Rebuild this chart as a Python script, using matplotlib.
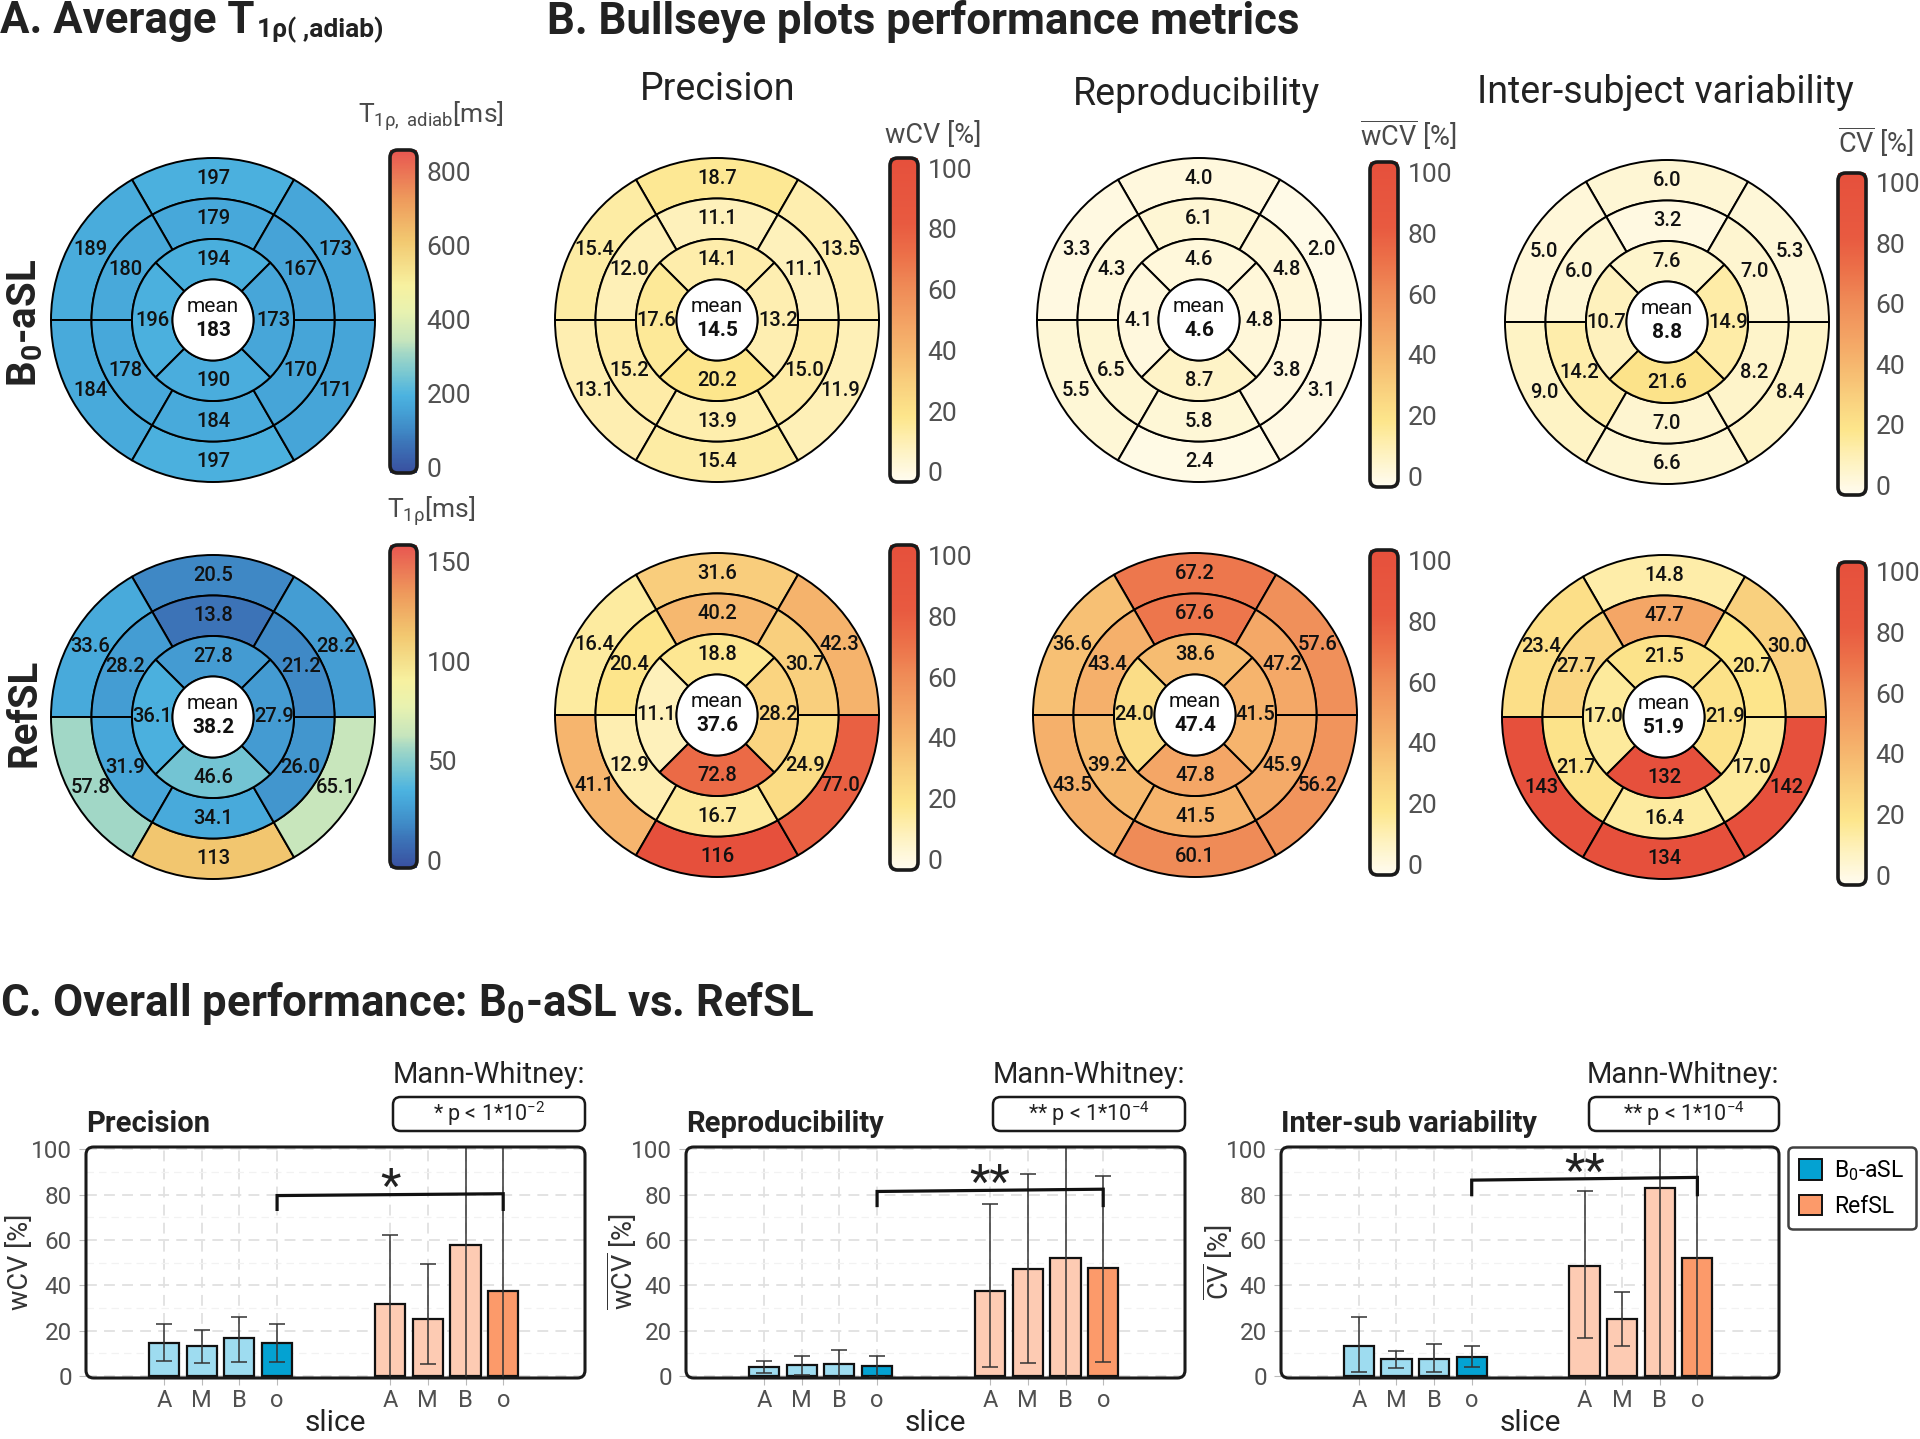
import numpy as np
import matplotlib
matplotlib.use('Agg')
import matplotlib.pyplot as plt
from matplotlib.patches import Wedge, Circle, FancyBboxPatch, Patch
from matplotlib.colors import LinearSegmentedColormap, Normalize
from matplotlib.cm import ScalarMappable
from matplotlib.text import Annotation

plt.rcParams['font.family'] = ['Roboto', 'DejaVu Sans']
plt.rcParams['mathtext.fontset'] = 'custom'
plt.rcParams['mathtext.rm'] = 'Roboto'
plt.rcParams['mathtext.it'] = 'Roboto:italic'
plt.rcParams['mathtext.bf'] = 'Roboto:bold'

# ---------------- data: bullseyes (order: top, upper-left, lower-left, bottom, lower-right, upper-right) ------------
# apical order: top, left, bottom, right
t1_b0_basal = [197, 189, 184, 197, 171, 173]
t1_b0_mid = [179, 180, 178, 184, 170, 167]
t1_b0_apical = [194, 196, 190, 173]
t1_b0_mean = 183

t1_ref_basal = [20.5, 33.6, 57.8, 113, 65.1, 28.2]
t1_ref_mid = [13.8, 28.2, 31.9, 34.1, 26.0, 21.2]
t1_ref_apical = [27.8, 36.1, 46.6, 27.9]
t1_ref_mean = 38.2

prec_b0_basal = [18.7, 15.4, 13.1, 15.4, 11.9, 13.5]
prec_b0_mid = [11.1, 12.0, 15.2, 13.9, 15.0, 11.1]
prec_b0_apical = [14.1, 17.6, 20.2, 13.2]
prec_b0_mean = 14.5

repr_b0_basal = [4.0, 3.3, 5.5, 2.4, 3.1, 2.0]
repr_b0_mid = [6.1, 4.3, 6.5, 5.8, 3.8, 4.8]
repr_b0_apical = [4.6, 4.1, 8.7, 4.8]
repr_b0_mean = 4.6

isv_b0_basal = [6.0, 5.0, 9.0, 6.6, 8.4, 5.3]
isv_b0_mid = [3.2, 6.0, 14.2, 7.0, 8.2, 7.0]
isv_b0_apical = [7.6, 10.7, 21.6, 14.9]
isv_b0_mean = 8.8

prec_ref_basal = [31.6, 16.4, 41.1, 116, 77.0, 42.3]
prec_ref_mid = [40.2, 20.4, 12.9, 16.7, 24.9, 30.7]
prec_ref_apical = [18.8, 11.1, 72.8, 28.2]
prec_ref_mean = 37.6

repr_ref_basal = [67.2, 36.6, 43.5, 60.1, 56.2, 57.6]
repr_ref_mid = [67.6, 43.4, 39.2, 41.5, 45.9, 47.2]
repr_ref_apical = [38.6, 24.0, 47.8, 41.5]
repr_ref_mean = 47.4

isv_ref_basal = [14.8, 23.4, 143, 134, 142, 30.0]
isv_ref_mid = [47.7, 27.7, 21.7, 16.4, 17.0, 20.7]
isv_ref_apical = [21.5, 17.0, 132, 21.9]
isv_ref_mean = 51.9

t1_b0_ticks = [0, 200, 400, 600, 800]
t1_ref_ticks = [0, 50, 100, 150]
metric_ticks = [0, 20, 40, 60, 80, 100]

# ---------------- data: bar charts ----------------
slices = ['A', 'M', 'B', 'o']

prec_b0_vals = [14.8, 13.1, 17.0, 14.5]
prec_b0_lo = [6.8, 5.8, 6.3, 6.1]
prec_b0_hi = [22.8, 20.4, 26.2, 22.8]
prec_ref_vals = [32.0, 25.0, 57.9, 37.4]
prec_ref_lo = [-3.0, 5.4, -40.0, -30.0]
prec_ref_hi = [62.1, 49.5, 160.0, 110.0]

repr_b0_vals = [4.0, 5.0, 5.3, 4.3]
repr_b0_lo = [1.2, 0.7, -1.0, -0.3]
repr_b0_hi = [6.9, 8.9, 11.5, 8.9]
repr_ref_vals = [37.7, 47.3, 52.3, 47.7]
repr_ref_lo = [3.9, 5.6, -20.0, 6.2]
repr_ref_hi = [75.9, 89.1, 125.0, 88.1]

isv_b0_vals = [13.2, 7.4, 7.7, 8.4]
isv_b0_lo = [1.9, 3.8, 1.9, 4.1]
isv_b0_hi = [25.9, 11.0, 14.0, 13.5]
isv_ref_vals = [48.7, 25.1, 83.0, 52.0]
isv_ref_lo = [16.9, 13.5, -20.0, -20.0]
isv_ref_hi = [81.4, 37.1, 190.0, 140.0]

# bracket heights: leg bottom, left top, right top, star height
prec_bracket = [73.5, 79.6, 80.4, 87.0]
repr_bracket = [75.2, 81.4, 82.4, 88.8]
isv_bracket = [80.0, 86.4, 87.6, 93.5]

# ---------------- colormaps ----------------
t1_cmap = LinearSegmentedColormap.from_list('t1', [
    (0.0, '#3950a0'), (0.09, '#3c74b8'), (0.13, '#3f88c5'), (0.2, '#46a5d8'),
    (0.24, '#4cb3e0'), (0.30, '#74c5d3'), (0.37, '#a2d7c6'), (0.41, '#c6e5bd'),
    (0.5, '#e8f2b0'), (0.58, '#f7f1a0'), (0.72, '#f2c870'), (0.85, '#ee9a5c'),
    (1.0, '#e85650')])
met_cmap = LinearSegmentedColormap.from_list('met', [
    (0.0, '#fffcf0'), (0.1, '#fef2c0'), (0.2, '#fde68c'), (0.3, '#f9d07e'),
    (0.4, '#f6b86f'), (0.5, '#f3a163'), (0.6, '#ef8b57'), (0.7, '#ec7049'),
    (0.8, '#e85a40'), (1.0, '#e6503c')])

W, H = 1920, 1439
fig = plt.figure(figsize=(W / 100, H / 100), dpi=100)
TXT = '#222222'
GRY = '#4a4a4a'


def fx(px):
    return px / W


def fy(py):
    return 1 - py / H


def rect(x0, y0, x1, y1):
    return [x0 / W, 1 - y1 / H, (x1 - x0) / W, (y1 - y0) / H]


def rbox(x0, y0, x1, y1, lw=2.4, r=0.003, ec='#1a1a1a', fc='none', z=5):
    p = FancyBboxPatch((x0 / W, 1 - y1 / H), (x1 - x0) / W, (y1 - y0) / H,
                       boxstyle=f'round,pad=0,rounding_size={r}', mutation_aspect=W / H,
                       transform=fig.transFigure, fc=fc, ec=ec, lw=lw, zorder=z)
    fig.add_artist(p)


def fmt(v):
    return f"{v:.0f}" if v >= 100 else f"{v:.1f}"


ANG6 = [90, 150, 210, 270, 330, 30]
ANG4 = [90, 180, 270, 0]


def bullseye(cx, cy, basal, mid, apical, mean, cmap, norm):
    R = 162
    m = 1.03
    ax = fig.add_axes(rect(cx - R * m, cy - R * m, cx + R * m, cy + R * m))
    ax.set_xlim(-m, m)
    ax.set_ylim(-m, m)
    ax.axis('off')
    for vals, r, angs, half in [(basal, 1.0, ANG6, 30), (mid, 0.75, ANG6, 30), (apical, 0.5, ANG4, 45)]:
        for v, a in zip(vals, angs):
            ax.add_patch(Wedge((0, 0), r, a - half, a + half, width=0.25,
                               fc=cmap(norm(v)), ec='black', lw=1.4))
            rr = r - 0.125
            ax.text(rr * np.cos(np.radians(a)), rr * np.sin(np.radians(a)), fmt(v),
                    ha='center', va='center', fontsize=14.5, fontweight='medium', color='#111')
    ax.add_patch(Circle((0, 0), 0.25, fc='white', ec='black', lw=1.4))
    ax.text(0, 0.085, 'mean', ha='center', va='center', fontsize=15, color='#111')
    ax.text(0, -0.065, fmt(mean), ha='center', va='center', fontsize=15, fontweight='bold', color='#111')


def cbar(x0, y0, x1, y1, cmap, lo, hi, ticks):
    cax = fig.add_axes(rect(x0, y0, x1, y1))
    sm = ScalarMappable(norm=Normalize(lo, hi), cmap=cmap)
    cb = fig.colorbar(sm, cax=cax)
    cb.outline.set_visible(False)
    cb.set_ticks(ticks)
    cax.tick_params(length=0, labelsize=19, colors='#505050', pad=7)
    rbox(x0, y0, x1, y1, lw=2.6, r=0.004)


# ---------------- section titles ----------------
tA = fig.text(fx(0), fy(33), "A. Average T", fontsize=31.5,
              fontweight='bold', color=TXT, ha='left', va='baseline')
sub = Annotation("1ρ( ,adiab)", xy=(1.0, 0.0), xycoords=tA, xytext=(2, -1),
                 textcoords='offset points', fontsize=19, fontweight='bold', color=TXT,
                 ha='left', va='bottom')
fig.add_artist(sub)

fig.text(fx(547), fy(34), "B. Bullseye plots performance metrics", fontsize=31.5,
         fontweight='bold', color=TXT, ha='left', va='baseline')
fig.text(fx(0), fy(1016), r"C. Overall performance: B$_{\mathbf{0}}$-aSL vs. RefSL", fontsize=31.5,
         fontweight='bold', color=TXT, ha='left', va='baseline')

fig.text(fx(25), fy(323), r"B$_{\mathbf{0}}$-aSL", rotation=90, ha='center', va='center',
         fontsize=29, fontweight='bold', color=TXT)
fig.text(fx(25), fy(713), "RefSL", rotation=90, ha='center', va='center',
         fontsize=29, fontweight='bold', color=TXT)

fig.text(fx(718), fy(100), "Precision", fontsize=27, color=TXT, ha='center', va='baseline')
fig.text(fx(1197), fy(105), "Reproducibility", fontsize=27, color=TXT, ha='center', va='baseline')
fig.text(fx(1665), fy(103), "Inter-subject variability", fontsize=27, color=TXT, ha='center', va='baseline')

# ---------------- bullseyes ----------------
n_t1b = Normalize(0, 850)
n_t1r = Normalize(0, 156)
n_met = Normalize(0, 100)

bullseye(213, 320, t1_b0_basal, t1_b0_mid, t1_b0_apical, t1_b0_mean, t1_cmap, n_t1b)
bullseye(213, 717, t1_ref_basal, t1_ref_mid, t1_ref_apical, t1_ref_mean, t1_cmap, n_t1r)
bullseye(717, 320, prec_b0_basal, prec_b0_mid, prec_b0_apical, prec_b0_mean, met_cmap, n_met)
bullseye(1199, 320, repr_b0_basal, repr_b0_mid, repr_b0_apical, repr_b0_mean, met_cmap, n_met)
bullseye(1667, 322, isv_b0_basal, isv_b0_mid, isv_b0_apical, isv_b0_mean, met_cmap, n_met)
bullseye(717, 715, prec_ref_basal, prec_ref_mid, prec_ref_apical, prec_ref_mean, met_cmap, n_met)
bullseye(1195, 715, repr_ref_basal, repr_ref_mid, repr_ref_apical, repr_ref_mean, met_cmap, n_met)
bullseye(1664, 717, isv_ref_basal, isv_ref_mid, isv_ref_apical, isv_ref_mean, met_cmap, n_met)

# ---------------- colorbars ----------------
cbar(390, 150, 417, 473, t1_cmap, -16, 859, t1_b0_ticks)
cbar(390, 545, 417, 868, t1_cmap, -4, 158.5, t1_ref_ticks)
cbar(890, 158, 918, 482, met_cmap, -3.3, 103.3, metric_ticks)
cbar(1370, 162, 1398, 487, met_cmap, -3.3, 103.3, metric_ticks)
cbar(1838, 173, 1866, 495, met_cmap, -3.3, 103.3, metric_ticks)
cbar(890, 545, 918, 870, met_cmap, -3.3, 103.3, metric_ticks)
cbar(1370, 550, 1398, 875, met_cmap, -3.3, 103.3, metric_ticks)
cbar(1838, 562, 1866, 885, met_cmap, -3.3, 103.3, metric_ticks)

fig.text(fx(431), fy(123), r"T$_{\mathregular{1ρ,\ adiab}}$[ms]", fontsize=19, color=GRY,
         ha='center', va='baseline')
fig.text(fx(431), fy(518), r"T$_{\mathregular{1ρ}}$[ms]", fontsize=19, color=GRY,
         ha='center', va='baseline')
fig.text(fx(933), fy(143), "wCV [%]", fontsize=19.5, color=GRY, ha='center', va='baseline')
fig.text(fx(1408), fy(146), r"$\overline{\mathregular{wCV}}$ [%]", fontsize=19.5, color=GRY,
         ha='center', va='baseline')
fig.text(fx(1876), fy(153), r"$\overline{\mathregular{CV}}$ [%]", fontsize=19.5, color=GRY,
         ha='center', va='baseline')

# ---------------- bar charts ----------------
B0_LIGHT, B0_DARK = '#9edcf0', '#04a2d2'
RF_LIGHT, RF_DARK = '#fdcbb3', '#fc9a6a'


def barpanel(x0, x1, title, ylabel, ylab_x, b0v, b0lo, b0hi, rv, rlo, rhi, bracket, star, pval, pbox_x0):
    y0, y1 = 1147, 1378
    ax = fig.add_axes(rect(x0, y0, x1, y1))
    pb = np.arange(4)
    pr = pb + 6
    b0v, b0lo, b0hi = map(np.asarray, (b0v, b0lo, b0hi))
    rv, rlo, rhi = map(np.asarray, (rv, rlo, rhi))
    ax.bar(pb, b0v, 0.8, color=[B0_LIGHT] * 3 + [B0_DARK], edgecolor='#111', lw=1.6, zorder=3)
    ax.bar(pr, rv, 0.8, color=[RF_LIGHT] * 3 + [RF_DARK], edgecolor='#111', lw=1.6, zorder=3)
    ax.errorbar(pb, b0v, yerr=[b0v - b0lo, b0hi - b0v], fmt='none', ecolor='#333',
                elinewidth=1.1, capsize=6, capthick=1.1, zorder=4)
    ax.errorbar(pr, rv, yerr=[rv - rlo, rhi - rv], fmt='none', ecolor='#333',
                elinewidth=1.1, capsize=6, capthick=1.1, zorder=4)
    ax.set_xlim(-2.07, 11.17)
    ax.set_ylim(-0.8, 101)
    ax.set_xticks(np.r_[pb, pr])
    ax.set_xticklabels(slices * 2)
    ax.set_yticks([0, 20, 40, 60, 80, 100])
    ax.set_yticks([10, 30, 50, 70, 90], minor=True)
    ax.grid(True, which='major', ls=(0, (6, 4)), color='#e0e0e0', lw=1.3, zorder=0)
    ax.grid(True, which='minor', axis='y', ls=(0, (6, 4)), color='#f2f2f2', lw=0.9, zorder=0)
    ax.set_axisbelow(True)
    for s in ax.spines.values():
        s.set_visible(False)
    ax.tick_params(axis='both', which='major', length=5, color='#bbbbbb', labelcolor='#505050', pad=5)
    ax.tick_params(axis='y', which='minor', length=0)
    ax.tick_params(axis='y', labelsize=17.5)
    ax.tick_params(axis='x', labelsize=17, pad=3)
    rbox(x0, y0, x1, y1, lw=2.2, r=0.004)
    # bracket
    leg, lt, rt, sy = bracket
    ax.plot([3, 3, 9, 9], [leg, lt, rt, leg], color='#111', lw=2.3, zorder=6,
            solid_joinstyle='miter', clip_on=False)
    ax.text(6, sy - 4, star, ha='center', va='center', fontsize=34, color=TXT, zorder=6)
    # texts
    fig.text(fx(x0), fy(1124), title, fontsize=21, fontweight='bold', color=TXT,
             ha='left', va='center')
    fig.text(fx(ylab_x), fy(1262), ylabel, rotation=90, fontsize=19.5, color='#333',
             ha='center', va='center')
    fig.text(fx((x0 + x1) / 2), fy(1423), "slice", fontsize=21.5, color=TXT, ha='center', va='center')
    fig.text(fx(x1), fy(1075), "Mann-Whitney:", fontsize=21, color=TXT, ha='right', va='center')
    rbox(pbox_x0, 1097, x1, 1131, lw=1.8, r=0.004, fc='white')
    fig.text(fx((pbox_x0 + x1) / 2), fy(1114), pval, fontsize=15.5, color=TXT,
             ha='center', va='center', zorder=7)
    return ax


barpanel(86, 585, "Precision", "wCV [%]", 21,
         prec_b0_vals, prec_b0_lo, prec_b0_hi, prec_ref_vals, prec_ref_lo, prec_ref_hi,
         prec_bracket, "*", r"* p < 1*10$^{\mathregular{-2}}$", 393)
barpanel(686, 1185, "Reproducibility", r"$\overline{\mathregular{wCV}}$ [%]", 622,
         repr_b0_vals, repr_b0_lo, repr_b0_hi, repr_ref_vals, repr_ref_lo, repr_ref_hi,
         repr_bracket, "**", r"** p < 1*10$^{\mathregular{-4}}$", 993)
barpanel(1281, 1779, "Inter-sub variability", r"$\overline{\mathregular{CV}}$ [%]", 1218,
         isv_b0_vals, isv_b0_lo, isv_b0_hi, isv_ref_vals, isv_ref_lo, isv_ref_hi,
         isv_bracket, "**", r"** p < 1*10$^{\mathregular{-4}}$", 1589)

handles = [Patch(fc=B0_DARK, ec='#111', lw=1.4, label=r"B$_{\mathregular{0}}$-aSL"),
           Patch(fc=RF_DARK, ec='#111', lw=1.4, label="RefSL")]
leg = fig.legend(handles=handles, loc='upper left', bbox_to_anchor=(fx(1788), fy(1147)),
                 frameon=True, fancybox=True, fontsize=16.5, handlelength=1.0, handleheight=1.0,
                 borderpad=0.5, labelspacing=0.5, handletextpad=0.5, borderaxespad=0)
leg.get_frame().set_edgecolor('#111')
leg.get_frame().set_linewidth(1.8)

fig.savefig('out.png', dpi=100)
